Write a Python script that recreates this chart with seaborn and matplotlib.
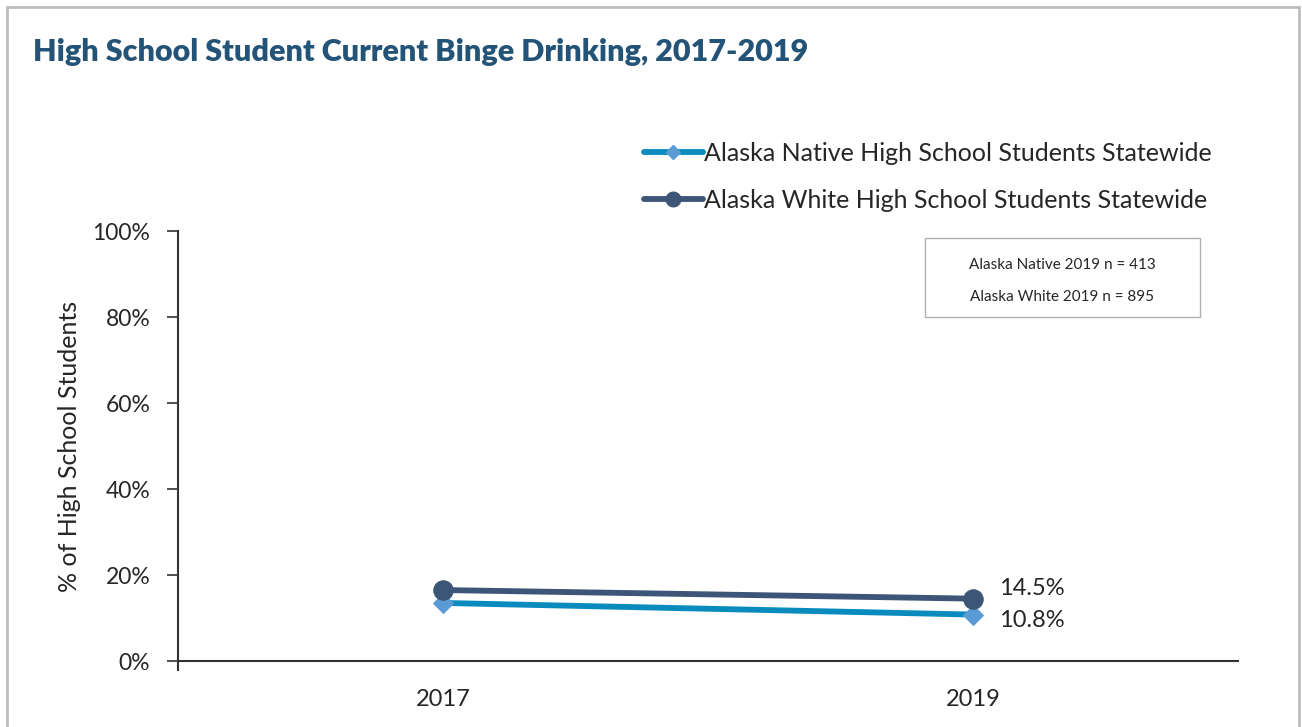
import numpy as np
import pandas as pd
import matplotlib
matplotlib.use("Agg")
import matplotlib.pyplot as plt
import seaborn as sns
from matplotlib.lines import Line2D
from matplotlib.patches import Rectangle
from matplotlib.ticker import FixedLocator, FuncFormatter

years = ["2017", "2019"]
native = [13.5, 10.8]
white = [16.5, 14.5]
series_names = ["Alaska Native High School Students Statewide",
                "Alaska White High School Students Statewide"]
n_notes = ["Alaska Native 2019 n = 413", "Alaska White 2019 n = 895"]

df = pd.DataFrame({
    "year": years * 2,
    "pct": native + white,
    "group": [series_names[0]] * 2 + [series_names[1]] * 2,
})

sns.set_style("white")
plt.rcParams["font.family"] = ["Lato", "DejaVu Sans"]

fig = plt.figure(figsize=(13.02, 7.27), dpi=100)
ax = fig.add_axes([178 / 1302, 1 - 661 / 727, 1060 / 1302, 430 / 727])

styles = {
    series_names[0]: dict(color="#0a8bbd", marker="D", markersize=10,
                          markerfacecolor="#5b9bd5", markeredgecolor="#5b9bd5", lw=4.2),
    series_names[1]: dict(color="#3d5577", marker="o", markersize=14,
                          markerfacecolor="#3d5577", markeredgecolor="#3d5577", lw=4.2),
}
for name in series_names:
    sub = df[df["group"] == name]
    sns.lineplot(data=sub, x="year", y="pct", ax=ax, label=name, zorder=3,
                 **styles[name])

ax.set_xlim(-0.5, 1.5)
ax.set_ylim(0, 100)
ax.yaxis.set_major_locator(FixedLocator([0, 20, 40, 60, 80, 100]))
ax.yaxis.set_major_formatter(FuncFormatter(lambda v, p: f"{v:.0f}%"))
ax.xaxis.set_major_locator(FixedLocator([-0.5, 0.5, 1.5]))
ax.xaxis.set_major_formatter(FuncFormatter(lambda v, p: ""))
ax.xaxis.set_minor_locator(FixedLocator([0, 1]))
ax.xaxis.set_minor_formatter(FuncFormatter(lambda v, p: years[int(round(v))]))
ax.tick_params(axis="x", which="major", direction="out", length=8, width=1.2, color="#333333")
ax.tick_params(axis="x", which="minor", length=0, pad=20, labelsize=17)
ax.tick_params(axis="y", which="major", direction="out", length=8, width=1.2,
               color="#333333", labelsize=16.5, pad=12, left=True)
ax.set_xlabel("")
ax.set_ylabel("% of High School Students", fontsize=18, labelpad=8)
for s in ["top", "right"]:
    ax.spines[s].set_visible(False)
for s in ["left", "bottom"]:
    ax.spines[s].set_color("#333333")
    ax.spines[s].set_linewidth(1.5)
ax.spines["left"].set_bounds(-2, 100)
ax.set_ylim(0, 100)

ax.annotate(f"{white[1]}%", xy=(1, white[1]), xytext=(19, 7), textcoords="offset points",
            fontsize=17, va="center", ha="left")
ax.annotate(f"{native[1]}%", xy=(1, native[1]), xytext=(19, -4.5), textcoords="offset points",
            fontsize=17, va="center", ha="left")

ax.get_legend().remove()
# legend proxies with smaller markers than the plotted points
handles = []
for name in series_names:
    st = dict(styles[name])
    st["markersize"] = st["markersize"] * 0.75
    handles.append(Line2D([], [], **st))
fig.legend(handles, series_names, loc="upper left", bbox_to_anchor=(634 / 1302, 1 - 132 / 727),
           frameon=False, fontsize=18, handlelength=2.35, handletextpad=0.05,
           labelspacing=0.95, borderaxespad=0)

# sample size box
fig.patches.append(Rectangle((925 / 1302, 1 - 317 / 727), 275 / 1302, 79 / 727,
                             transform=fig.transFigure, fill=False,
                             edgecolor="#b0b0b0", lw=1))
fig.text(1062 / 1302, 1 - 265 / 727, n_notes[0], ha="center", va="center", fontsize=11)
fig.text(1062 / 1302, 1 - 297 / 727, n_notes[1], ha="center", va="center", fontsize=11)

fig.text(33 / 1302, 1 - 52 / 727, "High School Student Current Binge Drinking, 2017-2019",
         ha="left", va="center", fontsize=22, fontweight="heavy", color="#235477")

# outer frame
fig.patches.append(Rectangle((7 / 1302, -0.05), 1292 / 1302, 1 - 7 / 727 + 0.05,
                             transform=fig.transFigure, fill=False,
                             edgecolor="#bdbdbd", lw=2))

fig.savefig("out.png", dpi=100)
